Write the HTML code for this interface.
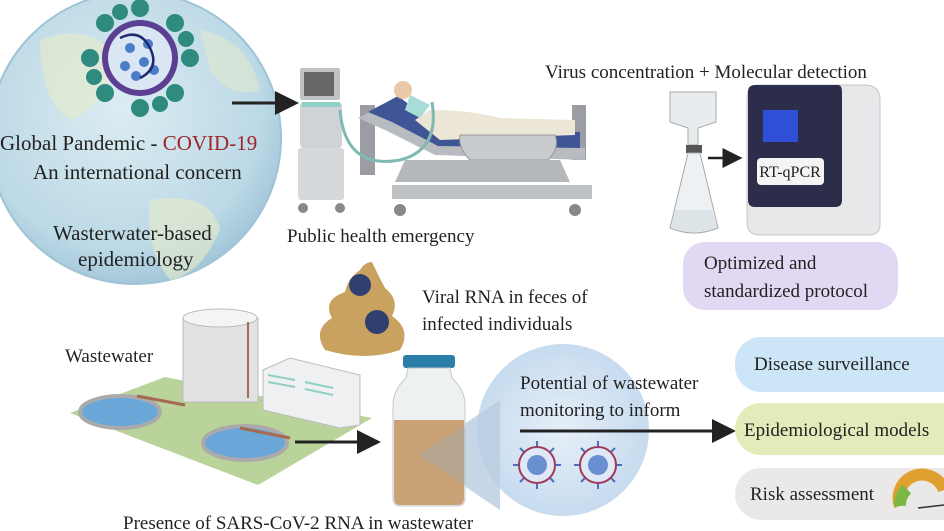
<!DOCTYPE html>
<html><head><meta charset="utf-8"><style>
html,body{margin:0;padding:0;background:#fff;width:944px;height:531px;overflow:hidden}
svg{display:block}
text{font-family:"Liberation Serif",serif;fill:#222}
</style></head><body>
<svg width="944" height="531" viewBox="0 0 944 531" xmlns="http://www.w3.org/2000/svg">
<defs>
<radialGradient id="gl" cx="0.45" cy="0.4" r="0.6"><stop offset="0" stop-color="#dcecf2"/><stop offset="0.8" stop-color="#bcd9e6"/><stop offset="1" stop-color="#a4c8da"/></radialGradient>
<radialGradient id="bub" cx="0.5" cy="0.5" r="0.5"><stop offset="0" stop-color="#e6eff8"/><stop offset="1" stop-color="#c7dbef"/></radialGradient>
<marker id="ar" markerWidth="8" markerHeight="8" refX="7" refY="4" orient="auto"><path d="M0,0 L8,4 L0,8 z" fill="#222"/></marker>
<g id="vir"><g stroke="#4a6fc0" stroke-width="2"><line x1="-24" y1="0" x2="24" y2="0"/><line x1="0" y1="-24" x2="0" y2="24"/><line x1="-17" y1="-17" x2="17" y2="17"/><line x1="-17" y1="17" x2="17" y2="-17"/></g><circle r="18" fill="#dfe8f6" stroke="#a03a5a" stroke-width="2"/><circle r="10" fill="#6a8fd0"/></g>
</defs>
<circle cx="135" cy="138" r="146" fill="url(#gl)" stroke="#9fc3d6" stroke-width="2"/>
<path d="M40,40 Q90,20 120,60 Q100,110 70,120 Q40,100 40,40z" fill="#e8ebc8" opacity="0.6"/>
<path d="M150,200 Q210,190 220,230 Q200,275 170,280 Q145,250 150,200z" fill="#e8ebc8" opacity="0.6"/>
<path d="M200,30 Q250,40 260,90 Q230,100 210,70z" fill="#e8ebc8" opacity="0.5"/>
<g transform="translate(140,58)">
<g fill="#2f8a80">
<circle cx="0" cy="-50" r="9"/><circle cx="0" cy="50" r="9"/><circle cx="-50" cy="0" r="9"/><circle cx="50" cy="0" r="9"/>
<circle cx="35" cy="-35" r="9"/><circle cx="-35" cy="35" r="9"/><circle cx="-35" cy="-35" r="9"/><circle cx="35" cy="35" r="9"/>
<circle cx="-20" cy="-46" r="8"/><circle cx="20" cy="46" r="8"/><circle cx="46" cy="-19" r="8"/><circle cx="-46" cy="19" r="8"/>
</g>
<circle r="38" fill="#5b3f93"/><circle r="32" fill="#dbe6f4"/>
<g fill="#4a7cc7"><circle cx="-10" cy="-10" r="5"/><circle cx="8" cy="-14" r="5"/><circle cx="-15" cy="8" r="5"/><circle cx="4" cy="4" r="5"/><circle cx="14" cy="12" r="5"/><circle cx="-4" cy="18" r="5"/></g>
<path d="M-20,-20 Q0,-30 10,-10 Q20,10 0,20" stroke="#1d2a6b" stroke-width="2.5" fill="none"/>
</g>
<text x="0" y="150" font-size="21">Global Pandemic - <tspan fill="#a0252a">COVID-19</tspan></text>
<text x="33" y="179" font-size="21">An international concern</text>
<text x="53" y="240" font-size="21">Wasterwater-based</text>
<text x="78" y="266" font-size="21">epidemiology</text>
<line x1="232" y1="103" x2="296" y2="103" stroke="#222" stroke-width="3" marker-end="url(#ar)"/>
<rect x="300" y="68" width="40" height="32" fill="#bfc3c6" rx="2"/><rect x="304" y="72" width="30" height="24" fill="#666"/>
<rect x="300" y="102" width="42" height="46" fill="#cfd3d6" rx="4"/><rect x="302" y="102" width="38" height="5" fill="#8fcfc6"/>
<rect x="298" y="148" width="46" height="52" fill="#d6d9db" rx="3"/>
<circle cx="303" cy="208" r="5" fill="#888"/><circle cx="340" cy="208" r="5" fill="#888"/>
<rect x="360" y="105" width="15" height="70" fill="#9a9ea2"/>
<rect x="572" y="105" width="14" height="55" fill="#9a9ea2"/>
<path d="M358,118 L392,100 L440,140 L585,148 L585,160 L435,155 L385,130z" fill="#b8bcc0"/>
<path d="M368,112 L398,96 L440,128 L580,132 L580,148 L438,146 L392,122z" fill="#3f5596"/>
<path d="M430,110 Q470,110 500,118 L575,120 L575,135 L440,140 L415,120z" fill="#ece6d6"/>
<circle cx="403" cy="90" r="9" fill="#e9c8a6"/>
<path d="M410,95 L430,105 L420,118 L405,110z" fill="#a8dcd6"/>
<path d="M460,135 L555,135 Q560,148 548,160 L470,160 Q458,148 460,135z" fill="#c9cccf" stroke="#999"/>
<path d="M340,110 Q345,170 400,160 Q440,150 432,102" stroke="#7fbab2" stroke-width="3" fill="none"/>
<path d="M405,160 L560,160 L570,182 L395,182z" fill="#b5b8bb"/>
<rect x="392" y="185" width="200" height="14" fill="#bfc2c5"/>
<circle cx="400" cy="210" r="6" fill="#888"/><circle cx="575" cy="210" r="6" fill="#888"/>
<text x="287" y="242" font-size="19">Public health emergency</text>
<text x="545" y="78" font-size="19">Virus concentration + Molecular detection</text>
<path d="M670,92 L716,92 L716,122 L698,128 L698,145 L688,145 L688,128 L670,122z" fill="#e9ecef" stroke="#aaa"/>
<rect x="686" y="145" width="16" height="8" fill="#555"/>
<path d="M688,153 L700,153 L718,228 Q694,238 670,228 z" fill="#eef1f3" stroke="#aaa"/>
<path d="M675,210 L712,210 L717,228 Q694,236 671,228z" fill="#dde4e8"/>
<line x1="708" y1="158" x2="740" y2="158" stroke="#222" stroke-width="2.5" marker-end="url(#ar)"/>
<path d="M760,85 L865,85 Q880,85 880,100 L880,225 Q880,235 868,235 L760,235 Q747,235 747,222 L747,98 Q747,85 760,85z" fill="#e6e8ea" stroke="#c4c7c9"/>
<path d="M755,85 L838,85 Q842,85 842,92 L842,200 Q842,207 835,207 L755,207 Q748,207 748,200 L748,92 Q748,85 755,85z" fill="#2b2d4a"/>
<rect x="763" y="110" width="35" height="32" fill="#2e4fd6"/>
<rect x="757" y="158" width="67" height="27" rx="4" fill="#f4f4f4"/>
<text x="790" y="177" font-size="16" text-anchor="middle">RT-qPCR</text>
<rect x="683" y="242" width="215" height="68" rx="22" fill="#e2d8f3"/>
<text x="704" y="269" font-size="19">Optimized and</text>
<text x="704" y="297" font-size="19">standardized protocol</text>
<path d="M325,350 Q312,330 332,318 Q322,300 345,292 Q348,278 360,270 Q365,262 372,262 Q378,275 385,288 Q400,300 392,316 Q412,330 400,350 Q365,362 325,350z" fill="#c8a25e"/>
<circle cx="360" cy="285" r="11" fill="#2f3f6f"/><circle cx="377" cy="322" r="12" fill="#2f3f6f"/>
<text x="422" y="303" font-size="19">Viral RNA in feces of</text>
<text x="422" y="330" font-size="19">infected individuals</text>
<text x="65" y="362" font-size="19">Wastewater</text>
<path d="M70,413 L165,377 L372,418 L258,485z" fill="#b9d39a"/>
<rect x="183" y="318" width="75" height="84" fill="#e2e2e2" stroke="#bbb"/><ellipse cx="220" cy="318" rx="37" ry="9" fill="#f4f4f2" stroke="#bbb"/>
<line x1="248" y1="322" x2="248" y2="398" stroke="#a56a50" stroke-width="2"/>
<path d="M263,370 L290,358 L360,375 L360,425 L340,428 L263,410z" fill="#eef0f2" stroke="#bbb"/>
<g stroke="#8fcfc6" stroke-width="2"><line x1="268" y1="375" x2="295" y2="380"/><line x1="268" y1="382" x2="295" y2="387"/><line x1="305" y1="382" x2="333" y2="388"/><line x1="305" y1="389" x2="333" y2="395"/></g>
<ellipse cx="120" cy="412" rx="40" ry="16" fill="#6aa7d8" stroke="#aaa" stroke-width="4"/>
<ellipse cx="245" cy="443" rx="42" ry="17" fill="#6aa7d8" stroke="#aaa" stroke-width="4"/>
<line x1="137" y1="396" x2="185" y2="405" stroke="#a56a50" stroke-width="3"/>
<line x1="240" y1="428" x2="290" y2="438" stroke="#a56a50" stroke-width="3"/>
<line x1="295" y1="442" x2="378" y2="442" stroke="#222" stroke-width="3" marker-end="url(#ar)"/>
<circle cx="563" cy="430" r="86" fill="url(#bub)"/>
<path d="M418,455 L500,400 L500,510z" fill="#b9cce0" opacity="0.8"/>
<rect x="403" y="355" width="52" height="13" rx="3" fill="#2a7ea8"/>
<path d="M408,368 L450,368 L452,378 Q465,390 465,405 L465,498 Q465,506 457,506 L400,506 Q393,506 393,498 L393,405 Q393,390 406,378z" fill="#eef1f2" stroke="#c5c9cb"/>
<path d="M394,420 L464,420 L464,498 Q464,505 457,505 L400,505 Q394,505 394,498z" fill="#c9a276"/>
<path d="M418,455 L465,425 L465,485z" fill="#a8a8a8" opacity="0.5"/>
<use href="#vir" x="537" y="465"/><use href="#vir" x="598" y="465"/>
<text x="520" y="389" font-size="19">Potential of wastewater</text>
<text x="520" y="416" font-size="19">monitoring to inform</text>
<line x1="520" y1="431" x2="733" y2="431" stroke="#222" stroke-width="3" marker-end="url(#ar)"/>
<rect x="735" y="337" width="240" height="55" rx="26" fill="#cde6f7"/>
<text x="754" y="370" font-size="19">Disease surveillance</text>
<rect x="735" y="403" width="240" height="52" rx="26" fill="#e2ebb9"/>
<text x="744" y="436" font-size="19">Epidemiological models</text>
<rect x="735" y="468" width="240" height="52" rx="26" fill="#ebe9e8"/>
<text x="750" y="500" font-size="19">Risk assessment</text>
<path d="M900,506 A22,22 0 0 1 944,490" stroke="#e0a030" stroke-width="12" fill="none"/>
<path d="M900,506 A22,22 0 0 1 907,489" stroke="#7bb843" stroke-width="12" fill="none"/>
<line x1="918" y1="508" x2="944" y2="505" stroke="#333" stroke-width="1.5"/>
<text x="123" y="529" font-size="19">Presence of SARS-CoV-2 RNA in wastewater</text>
</svg>
</body></html>
